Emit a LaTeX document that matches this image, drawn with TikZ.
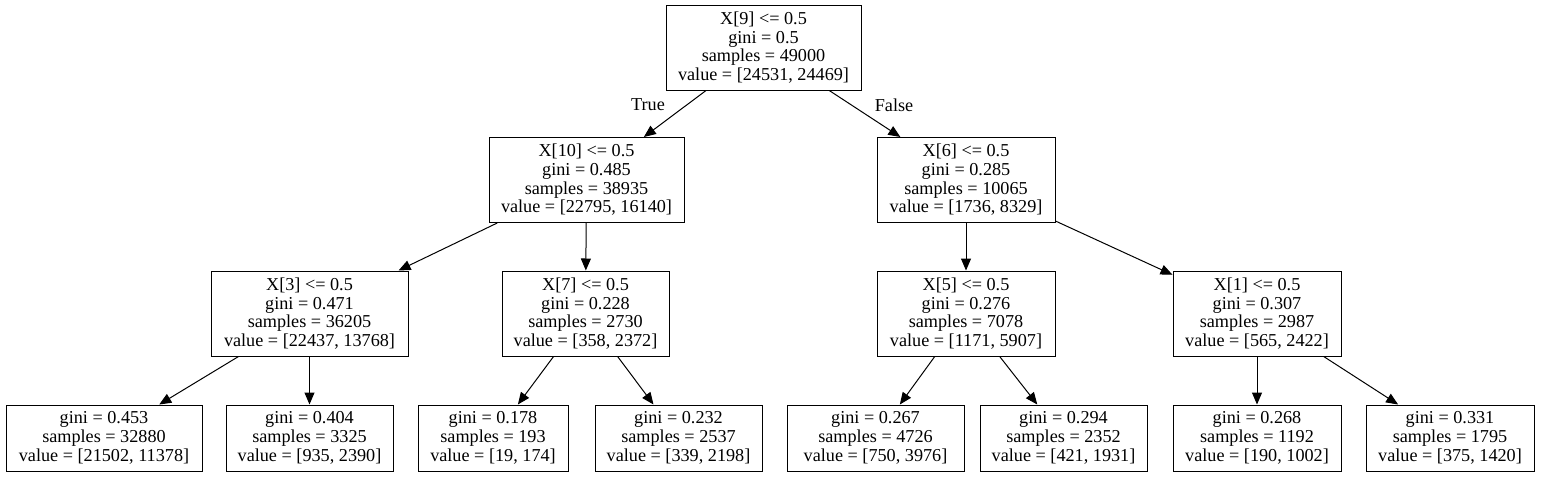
\documentclass[tikz,border=0pt]{standalone}
\usepackage{fontspec}
\setmainfont{Liberation Serif}
\usetikzlibrary{arrows.meta}
\begin{document}
\begin{tikzpicture}[x=1pt,y=-1pt,
  tn/.style={draw=black,line width=1pt,inner sep=0pt,align=center,
    font=\fontsize{18.2}{18.7}\selectfont},
  sp/.style={tn,minimum height=85pt},
  lf/.style={tn,minimum height=66pt},
  ed/.style={draw=black,line width=1pt,-{Triangle[length=12pt,width=10pt]}},
  lab/.style={font=\fontsize{18.2}{18.7}\selectfont}]
\useasboundingbox[fill=white] (0,0) rectangle (1541,477);
\node[sp,minimum width=195pt] (r) at (763.5,47.5) {X[9] <= 0.5\\gini = 0.5\\samples = 49000\\value = [24531, 24469]};
\node[sp,minimum width=195pt] (a) at (586.5,180) {X[10] <= 0.5\\gini = 0.485\\samples = 38935\\value = [22795, 16140]};
\node[sp,minimum width=178pt] (b) at (966,180) {X[6] <= 0.5\\gini = 0.285\\samples = 10065\\value = [1736, 8329]};
\node[sp,minimum width=197pt] (aa) at (309.5,313.5) {X[3] <= 0.5\\gini = 0.471\\samples = 36205\\value = [22437, 13768]};
\node[sp,minimum width=167pt] (ab) at (585.5,313.5) {X[7] <= 0.5\\gini = 0.228\\samples = 2730\\value = [358, 2372]};
\node[sp,minimum width=178pt] (ba) at (966,313.5) {X[5] <= 0.5\\gini = 0.276\\samples = 7078\\value = [1171, 5907]};
\node[sp,minimum width=168pt] (bb) at (1257,313.5) {X[1] <= 0.5\\gini = 0.307\\samples = 2987\\value = [565, 2422]};
\node[lf,minimum width=196pt] (l1) at (104,438) {gini = 0.453\\samples = 32880\\value = [21502, 11378]};
\node[lf,minimum width=167pt] (l2) at (309.5,438) {gini = 0.404\\samples = 3325\\value = [935, 2390]};
\node[lf,minimum width=150pt] (l3) at (493,438) {gini = 0.178\\samples = 193\\value = [19, 174]};
\node[lf,minimum width=167pt] (l4) at (678.5,438) {gini = 0.232\\samples = 2537\\value = [339, 2198]};
\node[lf,minimum width=177pt] (l5) at (875.5,438) {gini = 0.267\\samples = 4726\\value = [750, 3976]};
\node[lf,minimum width=167pt] (l6) at (1063.5,438) {gini = 0.294\\samples = 2352\\value = [421, 1931]};
\node[lf,minimum width=168pt] (l7) at (1257,438) {gini = 0.268\\samples = 1192\\value = [190, 1002]};
\node[lf,minimum width=168pt] (l8) at (1450,438) {gini = 0.331\\samples = 1795\\value = [375, 1420]};
\path[ed] (r) -- (a);
\path[ed] (r) -- (b);
\node[lab] (t) at (648,105) {True};
\node[lab] (f) at (894,105) {False};
\path[ed] (a) -- (aa);
\path[ed] (a) -- (ab);
\path[ed] (b) -- (ba);
\path[ed] (b) -- (bb);
\path[ed] (aa) -- (l1);
\path[ed] (aa) -- (l2);
\path[ed] (ab) -- (l3);
\path[ed] (ab) -- (l4);
\path[ed] (ba) -- (l5);
\path[ed] (ba) -- (l6);
\path[ed] (bb) -- (l7);
\path[ed] (bb) -- (l8);
\end{tikzpicture}
\end{document}
